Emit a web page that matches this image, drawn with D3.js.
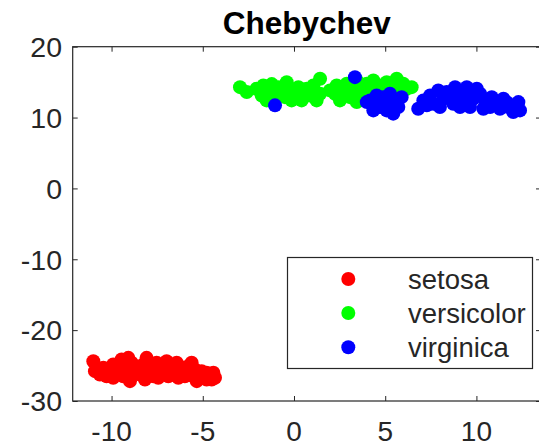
<!DOCTYPE html>
<html>
<head>
<meta charset="utf-8">
<script src="https://cdn.jsdelivr.net/npm/d3@7"></script>
<style>
  html, body { margin: 0; padding: 0; background: #fff; overflow: hidden; }
  svg { display: block; font-family: "Liberation Sans", Arial, Helvetica, sans-serif; }
</style>
</head>
<body>
<script>
// 2-D embedding of the iris measurements (Chebychev distance), one array per species
const setosaX = [-11.00, -10.91, -10.45, -10.27, -9.91, -9.63, -9.45, -9.08, -9.17, -8.99,
  -8.72, -8.44, -8.08, -7.99, -7.71, -7.53, -7.25, -6.98, -6.89, -6.52,
  -6.43, -6.16, -5.80, -5.61, -5.52, -5.33, -5.06, -4.79, -4.42, -4.33,
  -4.51, -10.64, -10.09, -9.36, -9.54, -8.90, -8.26, -8.17, -7.80, -7.44,
  -7.17, -6.71, -6.34, -5.98, -6.07, -5.43, -5.15, -4.79, -8.62, -9.91];
const setosaY = [-24.39, -25.79, -25.32, -26.50, -24.85, -26.02, -24.15, -23.91, -25.56, -27.20,
  -25.09, -26.26, -23.91, -25.32, -26.50, -24.61, -25.79, -24.39, -26.50, -25.32,
  -24.61, -26.02, -25.09, -24.61, -26.50, -27.20, -25.79, -26.02, -26.02, -26.72,
  -26.97, -26.26, -25.79, -26.50, -25.09, -24.61, -24.85, -26.97, -25.55, -26.72,
  -25.09, -26.02, -26.72, -26.50, -25.32, -25.55, -26.72, -26.97, -25.79, -26.72];

const versicolorX = [-2.96, -2.59, -1.68, -1.32, -1.77, -0.86, -0.40, -0.22, 0.15, 0.42,
  0.70, 0.88, 1.24, 1.06, 1.43, -0.95, 2.34, 2.25, 2.70, 3.07,
  3.44, 3.62, 3.99, 4.35, 4.71, 5.08, 5.63, 5.99, 6.45, 5.44,
  4.53, 2.52, -2.05, -1.50, -0.49, 0.24, -0.68, 0.60, 1.97, 3.25,
  3.80, 4.17, 5.26, 6.18, 4.90, 2.89, 3.44, 1.43, -1.22, -0.13];
const versicolorY = [14.29, 13.59, 14.53, 13.83, 13.12, 14.29, 14.99, 13.59, 12.88, 12.42,
  14.06, 13.12, 12.42, 14.53, 15.47, 12.88, 14.53, 13.36, 13.83, 12.88,
  12.18, 14.06, 14.77, 15.23, 14.53, 14.99, 15.47, 14.77, 14.29, 14.06,
  13.36, 12.42, 14.06, 12.42, 12.88, 14.29, 13.59, 13.36, 13.83, 13.59,
  12.88, 14.06, 14.29, 14.06, 13.59, 14.77, 15.23, 13.36, 14.72, 12.42];

const virginicaX = [-1.04, 3.34, 4.17, 4.53, 4.71, 4.99, 5.26, 5.54, 5.90, 5.44,
  4.35, 3.99, 5.08, 6.81, 7.09, 7.46, 7.91, 8.19, 8.55, 8.83,
  9.10, 9.38, 9.65, 9.83, 10.20, 10.47, 10.75, 11.11, 11.48, 11.75,
  12.02, 12.30, 12.39, 8.73, 9.47, 7.64, 8.00, 9.10, 10.02, 10.84,
  11.29, 10.38, 8.37, 9.56, 7.28, 5.72, 4.44, 4.90, 11.66, 12.02];
const virginicaY = [11.72, 15.70, 12.42, 13.12, 11.48, 11.95, 13.36, 12.18, 12.88, 10.55,
  11.01, 12.18, 11.01, 11.25, 12.42, 13.12, 13.83, 12.65, 13.36, 14.29,
  12.88, 13.59, 11.48, 12.65, 13.36, 12.42, 11.48, 11.95, 12.65, 11.48,
  10.77, 12.18, 11.01, 11.95, 14.29, 11.95, 11.48, 11.48, 14.06, 12.88,
  11.25, 11.25, 13.59, 12.18, 11.72, 11.48, 11.95, 12.88, 12.18, 11.72];

const speciesNames = ["setosa", "versicolor", "virginica"];
const speciesColors = ["#ff0000", "#00ff00", "#0000ff"];
const xTicks = [-10, -5, 0, 5, 10];
const yTicks = [-30, -20, -10, 0, 10, 20];
const xLimits = [-12.13, 13.54];
const yLimits = [-30, 20];
const chartTitle = "Chebychev";

const groups = [
  { x: setosaX, y: setosaY },
  { x: versicolorX, y: versicolorY },
  { x: virginicaX, y: virginicaY }
];

const W = 539, H = 446;
const plot = { left: 72.7, right: 541, top: 46.7, bottom: 401 };
const axisColor = "#262626";
const tickLen = 5;

const svg = d3.select("body").append("svg")
  .attr("width", W).attr("height", H);

const x = d3.scaleLinear().domain(xLimits).range([plot.left, plot.right]);
const y = d3.scaleLinear().domain(yLimits).range([plot.bottom, plot.top]);

// markers
const dots = svg.append("g");
groups.forEach((g, i) => {
  dots.append("g")
    .attr("fill", speciesColors[i])
    .selectAll("circle")
    .data(g.x.map((v, k) => [v, g.y[k]]))
    .join("circle")
    .attr("cx", d => x(d[0]))
    .attr("cy", d => y(d[1]))
    .attr("r", 7);
});

// axes box with inward ticks on all four sides
const axBottom = d3.axisTop(x).tickValues(xTicks).tickSize(tickLen).tickFormat("");
const axTop = d3.axisBottom(x).tickValues(xTicks).tickSize(tickLen).tickFormat("");
const axLeft = d3.axisRight(y).tickValues(yTicks).tickSize(tickLen).tickFormat("");
const axRight = d3.axisLeft(y).tickValues(yTicks).tickSize(tickLen).tickFormat("");

function styleAxis(g) {
  g.selectAll(".domain").remove();
  g.selectAll("line").attr("stroke", axisColor).attr("stroke-width", 1);
}
svg.append("g").attr("transform", `translate(0,${plot.bottom})`).call(axBottom).call(styleAxis);
svg.append("g").attr("transform", `translate(0,${plot.top})`).call(axTop).call(styleAxis);
svg.append("g").attr("transform", `translate(${plot.left},0)`).call(axLeft).call(styleAxis);
svg.append("g").attr("transform", `translate(${plot.right},0)`).call(axRight).call(styleAxis);

svg.append("rect")
  .attr("x", plot.left).attr("y", plot.top)
  .attr("width", plot.right - plot.left).attr("height", plot.bottom - plot.top)
  .attr("fill", "none").attr("stroke", axisColor).attr("stroke-width", 1.2);

// tick labels
svg.append("g").selectAll("text")
  .data(xTicks).join("text")
  .attr("x", d => x(d)).attr("y", 441)
  .attr("text-anchor", "middle")
  .attr("font-size", 28).attr("fill", axisColor)
  .text(d => d);

svg.append("g").selectAll("text")
  .data(yTicks).join("text")
  .attr("x", 62).attr("y", d => y(d))
  .attr("dy", "0.36em")
  .attr("text-anchor", "end")
  .attr("font-size", 28.5).attr("fill", axisColor)
  .text(d => d);

// title
svg.append("text")
  .attr("x", (plot.left + plot.right) / 2).attr("y", 33.5)
  .attr("text-anchor", "middle")
  .attr("font-size", 31.5).attr("font-weight", "bold").attr("fill", "#000")
  .text(chartTitle);

// legend
const legend = svg.append("g");
legend.append("rect")
  .attr("x", 287.5).attr("y", 257.5).attr("width", 245).attr("height", 111)
  .attr("fill", "#fff").attr("stroke", axisColor).attr("stroke-width", 1.2);
const rowY = [279, 313, 347.3];
speciesNames.forEach((name, i) => {
  legend.append("circle")
    .attr("cx", 348.3).attr("cy", rowY[i]).attr("r", 7)
    .attr("fill", speciesColors[i]);
  legend.append("text")
    .attr("x", 408).attr("y", rowY[i]).attr("dy", "0.36em")
    .attr("font-size", 27.5).attr("fill", axisColor)
    .text(name);
});
</script>
</body>
</html>
